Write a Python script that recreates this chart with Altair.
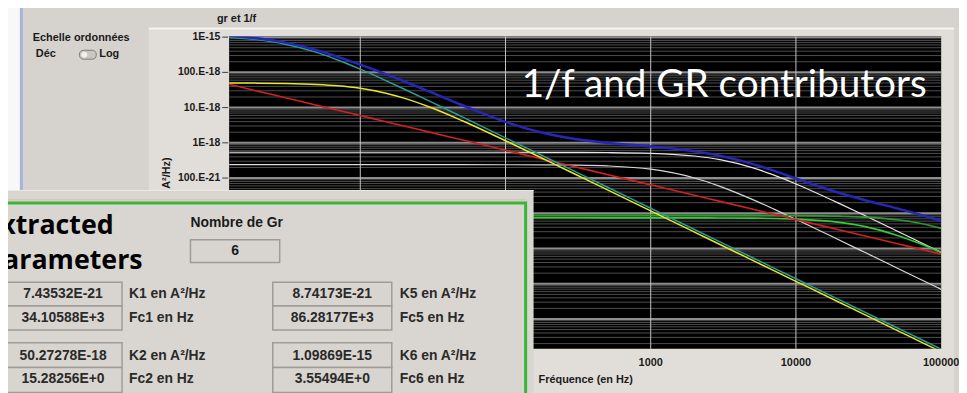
import altair as alt
import pandas as pd

# ---------------- data ----------------
freq = [1.25, 2, 3, 5, 7, 10, 15, 20, 30, 50, 100, 200, 300, 500, 1000,
        2000, 3000, 5000, 7000, 10000, 20000, 30000, 50000, 70000, 100000]

total_blue = [1.075e-15, 9.14e-16, 7.106e-16, 4.269e-16, 2.761e-16, 1.652e-16, 8.89e-17, 5.60e-17,
              2.837e-17, 1.183e-17, 3.93e-18, 1.743e-18, 1.280e-18, 9.98e-19, 7.89e-19, 5.79e-19,
              4.32e-19, 2.53e-19, 1.62e-19, 9.72e-20, 3.77e-20, 2.355e-20, 1.365e-20, 9.41e-21, 6.05e-21]
gr6_teal = [9.78e-16, 8.35e-16, 6.42e-16, 3.69e-16, 2.253e-16, 1.233e-16, 5.85e-17, 3.366e-17,
            1.522e-17, 5.53e-18, 1.387e-18, 3.471e-19, 1.543e-19, 5.56e-20, 1.389e-20, 3.47e-21,
            1.543e-21, 5.56e-22, 2.835e-22, 1.389e-22, 3.47e-23, 1.543e-23, 5.56e-24, 2.835e-24, 1.389e-24]
gr2_yellow = [5.00e-17, 4.945e-17, 4.84e-17, 4.54e-17, 4.157e-17, 3.52e-17, 2.562e-17, 1.854e-17,
              1.036e-17, 4.30e-18, 1.148e-18, 2.919e-19, 1.301e-19, 4.69e-20, 1.174e-20, 2.935e-21,
              1.304e-21, 4.70e-22, 2.396e-22, 1.174e-22, 2.935e-23, 1.304e-23, 4.70e-24, 2.396e-24, 1.174e-24]
flicker_red = [4.58e-17, 2.88e-17, 1.94e-17, 1.17e-17, 8.42e-18, 5.93e-18, 3.98e-18, 3.00e-18,
               2.01e-18, 1.22e-18, 6.17e-19, 3.12e-19, 2.09e-19, 1.27e-19, 6.41e-20, 3.24e-20,
               2.18e-20, 1.32e-20, 9.46e-21, 6.67e-21, 3.37e-21, 2.26e-21, 1.37e-21, 9.84e-22, 6.93e-22]
gr3_white = [5.40e-19, 5.40e-19, 5.40e-19, 5.40e-19, 5.40e-19, 5.40e-19, 5.40e-19, 5.40e-19,
             5.40e-19, 5.40e-19, 5.40e-19, 5.39e-19, 5.37e-19, 5.31e-19, 5.05e-19, 4.23e-19,
             3.33e-19, 1.977e-19, 1.229e-19, 6.81e-20, 1.882e-20, 8.53e-21, 3.10e-21, 1.587e-21, 7.79e-22]
gr4_white = [2.40e-19, 2.40e-19, 2.40e-19, 2.40e-19, 2.40e-19, 2.40e-19, 2.40e-19, 2.40e-19,
             2.40e-19, 2.40e-19, 2.39e-19, 2.367e-19, 2.33e-19, 2.21e-19, 1.783e-19, 1.007e-19,
             5.83e-20, 2.49e-20, 1.336e-20, 6.74e-21, 1.722e-21, 7.68e-22, 2.77e-22, 1.415e-22, 6.93e-23]
gr5_green = [8.74e-21, 8.74e-21, 8.74e-21, 8.74e-21, 8.74e-21, 8.74e-21, 8.74e-21, 8.74e-21,
             8.74e-21, 8.74e-21, 8.74e-21, 8.74e-21, 8.74e-21, 8.74e-21, 8.74e-21, 8.74e-21,
             8.73e-21, 8.71e-21, 8.68e-21, 8.62e-21, 8.29e-21, 7.80e-21, 6.54e-21, 5.27e-21, 3.73e-21]
gr1_green = [7.435e-21, 7.435e-21, 7.435e-21, 7.435e-21, 7.435e-21, 7.435e-21, 7.435e-21, 7.435e-21,
             7.435e-21, 7.435e-21, 7.435e-21, 7.435e-21, 7.435e-21, 7.43e-21, 7.43e-21, 7.41e-21,
             7.38e-21, 7.28e-21, 7.13e-21, 6.85e-21, 5.53e-21, 4.19e-21, 2.36e-21, 1.427e-21, 7.75e-22]

# decade grid of the graph
y_grid_values = [1e-15, 1e-16, 1e-17, 1e-18, 1e-19, 1e-20, 1e-21, 1e-22, 1e-23]
x_grid_values = [10, 100, 1000, 10000]
# tick labels left visible by the parameter panel
y_tick_values = [1e-15, 1e-16, 1e-17, 1e-18, 1e-19]
y_tick_labels = ["1E-15", "100.E-18", "10.E-18", "1E-18", "100.E-21"]
x_tick_values = [1000, 10000, 100000]
x_tick_labels = ["1000", "10000", "100000"]

nb_gr = "6"
left_values = ["7.43532E-21", "34.10588E+3", "50.27278E-18", "15.28256E+0"]
left_names = ["K1 en A²/Hz", "Fc1 en Hz", "K2 en A²/Hz", "Fc2 en Hz"]
right_values = ["8.74173E-21", "86.28177E+3", "1.09869E-15", "3.55494E+0"]
right_names = ["K5 en A²/Hz", "Fc5 en Hz", "K6 en A²/Hz", "Fc6 en Hz"]

# ---------------- layout ----------------
W, H = 718, 315
OX, OY = 231, 35          # page position of the plot origin in the reference
PAD = dict(left=OX - 8, top=OY - 8, right=959 - (OX - 8) - W, bottom=385 - (OY - 8) - H)

def X(v):
    return v - OX

def Y(v):
    return v - OY

FONT = "Liberation Sans, Arial, sans-serif"
BIG = "Lato, Open Sans, sans-serif"
BOLDBIG = "Open Sans, Lato, sans-serif"
BG = "#d6d3ce"

xs = alt.Scale(type="log", domain=[1.25, 100000], nice=False)
ys = alt.Scale(type="log", domain=[1.43e-24, 1.05e-15], nice=False)
dummy = pd.DataFrame({"d": [0]})


def rect(x1, y1, x2, y2, fill, stroke=None, sw=0.0, **kw):
    m = dict(fill=fill)
    if stroke:
        m.update(stroke=stroke, strokeWidth=sw)
    m.update(kw)
    return alt.Chart(dummy).mark_rect(**m).encode(
        x=alt.value(X(x1)), x2=alt.value(X(x2)), y=alt.value(Y(y1)), y2=alt.value(Y(y2)))


def txt(s, x, y, size=11, weight="bold", color="#1a1a1a", align="left",
        baseline="middle", font=FONT, angle=None):
    kw = dict(text=s, fontSize=size, fontWeight=weight, color=color, align=align,
              baseline=baseline, font=font)
    if angle is not None:
        kw["angle"] = angle
    return alt.Chart(dummy).mark_text(**kw).encode(x=alt.value(X(x)), y=alt.value(Y(y)))


layers = []
# window edge on the left
layers.append(rect(-20, -20, 20, 190, "#f8f8f8"))
layers.append(rect(20, -20, 23, 190, "#a6b4da"))
# graph frame
layers.append(rect(150, 27, 962, 410, "#e1ded9"))
layers.append(rect(150, 26, 962, 28, "#f5f3ef"))
# plot area
layers.append(rect(OX, OY, OX + W, OY + H, "#000000"))

# grid
minor_vals = [k * 10.0 ** e for e in range(-24, -15) for k in range(2, 10)]
minor_vals = [v for v in minor_vals if 1.43e-24 < v < 1.05e-15]
layers.append(alt.Chart(pd.DataFrame({"v": minor_vals})).mark_rule(color="#4e4e4e", strokeWidth=1, clip=True)
              .encode(y=alt.Y("v:Q", scale=ys, axis=None), x=alt.value(0), x2=alt.value(W)))
layers.append(alt.Chart(pd.DataFrame({"v": y_grid_values})).mark_rule(color="#8e8e8e", strokeWidth=2, clip=True)
              .encode(y=alt.Y("v:Q", scale=ys, axis=None), x=alt.value(0), x2=alt.value(W)))
layers.append(alt.Chart(pd.DataFrame({"v": x_grid_values})).mark_rule(color="#c4c4c4", strokeWidth=1)
              .encode(x=alt.X("v:Q", scale=xs, axis=None), y=alt.value(0), y2=alt.value(H)))

# curves
curves = [
    (gr4_white, "#d8d8d8", 1.2),
    (gr3_white, "#e6e6e6", 1.2),
    (gr5_green, "#2f9a2f", 1.6),
    (gr1_green, "#33cc33", 1.6),
    (flicker_red, "#d42020", 1.6),
    (gr6_teal, "#2a9c94", 1.5),
    (gr2_yellow, "#e6e62a", 1.5),
    (total_blue, "#2626b8", 2.5),
]
for vals, col, w in curves:
    df = pd.DataFrame({"f": freq, "v": vals})
    layers.append(alt.Chart(df).mark_line(color=col, strokeWidth=w, clip=True, interpolate="monotone")
                  .encode(x=alt.X("f:Q", scale=xs, axis=None), y=alt.Y("v:Q", scale=ys, axis=None)))

# overlay text in the plot
layers.append(txt("1/f and GR contributors", 526, 96, size=39, weight="normal", color="#ffffff",
                  baseline="alphabetic", font=BIG))

# y ticks and labels
layers.append(alt.Chart(pd.DataFrame({"v": y_grid_values})).mark_rule(color="#3a3a3a", strokeWidth=1)
              .encode(y=alt.Y("v:Q", scale=ys, axis=None), x=alt.value(-7), x2=alt.value(-1)))
ydf = pd.DataFrame({"v": y_tick_values, "lab": y_tick_labels})
layers.append(alt.Chart(ydf).mark_text(align="right", baseline="middle", fontSize=10.5, fontWeight="bold",
                                       font=FONT, color="#1a1a1a")
              .encode(y=alt.Y("v:Q", scale=ys, axis=None), x=alt.value(-9), text="lab:N"))
# x labels
xdf = pd.DataFrame({"v": x_tick_values, "lab": x_tick_labels})
layers.append(alt.Chart(xdf).mark_text(align="center", baseline="middle", fontSize=11, fontWeight="bold",
                                       font=FONT, color="#1a1a1a")
              .encode(x=alt.X("v:Q", scale=xs, axis=None), y=alt.value(Y(364)), text="lab:N"))
layers.append(txt("Fréquence (en Hz)", 543, 382))
layers.append(txt("(en A²/Hz)", 168, 157, align="right", angle=270))
layers.append(txt("gr et 1/f", 238.5, 17, align="center"))

# scale switch
layers.append(txt("Echelle ordonnées", 33, 37))
layers.append(txt("Déc", 36, 53))
layers.append(txt("Log", 100, 53))
layers.append(rect(80, 49, 97, 58, "#c9c6c1", stroke="#7d7b78", sw=1, cornerRadius=4))
layers.append(rect(82, 50.5, 88, 56.5, "#f2f0ec", cornerRadius=3))

# parameters panel
layers.append(rect(-20, 190, 538, 420, "#d9d6d1"))
layers.append(rect(-20, 190, 538, 191, "#ece9e4"))
layers.append(rect(-20, 199, 531, 200.5, "#e4c2b8"))
layers.append(rect(-20, 203, 530, 430, "none", stroke="#36b836", sw=3))
layers.append(txt("Extracted", -15, 234, size=27, weight="bold", color="#000000", baseline="alphabetic", font=BOLDBIG))
layers.append(txt("parameters", -14, 270, size=27, weight="bold", color="#000000", baseline="alphabetic", font=BOLDBIG))
layers.append(txt("Nombre de Gr", 192, 223, size=14))
layers.append(rect(192, 240, 282, 263, "#d8d5d0", stroke="#9f9c97", sw=1.5))
layers.append(txt(nb_gr, 237, 251.5, size=14, align="center"))

rows_y = [295, 319, 357, 381]
boxes = [(283, 307), (307, 331), (344, 369), (369, 394)]
for (b0, b1), yy, lv, ln, rv, rn in zip(boxes, rows_y, left_values, left_names, right_values, right_names):
    layers.append(rect(4, b0, 123, b1, "#d8d5d0", stroke="#9f9c97", sw=1.5))
    layers.append(rect(275, b0, 395, b1, "#d8d5d0", stroke="#9f9c97", sw=1.5))
    layers.append(txt(lv, 63.5, yy, size=14, align="center", color="#2a2a2a"))
    layers.append(txt(ln, 130, yy, size=14, color="#2a2a2a"))
    layers.append(txt(rv, 335, yy, size=14, align="center", color="#2a2a2a"))
    layers.append(txt(rn, 403, yy, size=14, color="#2a2a2a"))

chart = alt.layer(*layers).properties(
    width=W, height=H, padding=PAD, autosize=alt.AutoSizeParams(type="none"), background=BG
).configure_view(stroke=None)

chart.save("out.html", embed_options={"renderer": "svg", "actions": False})
